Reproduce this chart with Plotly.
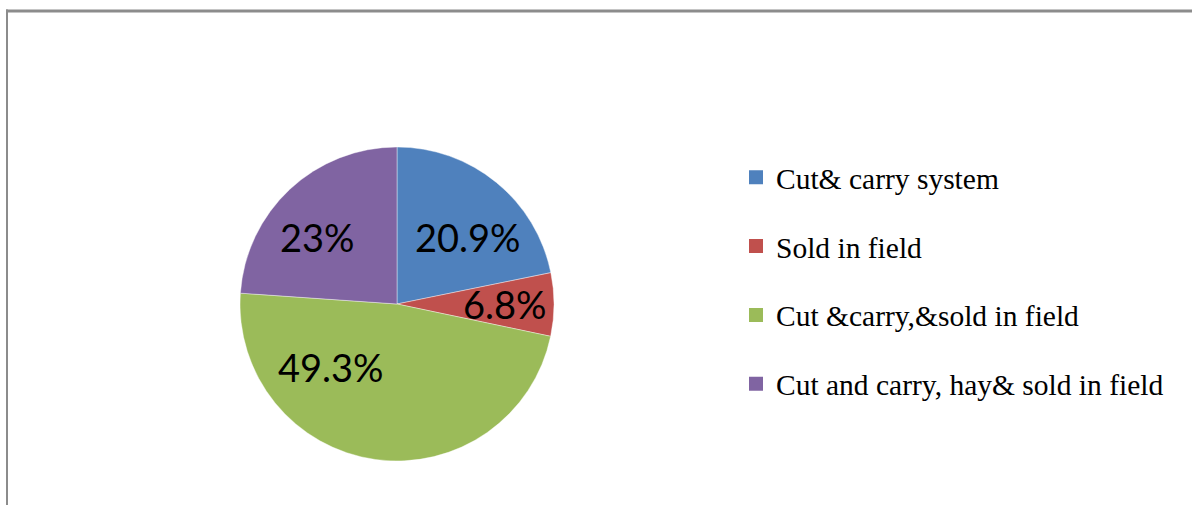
import plotly.graph_objects as go

categories = ["Cut& carry system", "Sold in field", "Cut &carry,&sold in field",
              "Cut and carry, hay& sold in field"]
# slice sizes as drawn in the picture (angles measured on the wedges)
values = [21.8, 6.5, 47.8, 23.9]
# percentages printed on the wedges
labels_text = ["20.9%", "6.8%", "49.3%", "23%"]
colors = ["#4F81BD", "#C0504D", "#9BBB59", "#8064A2"]

W, H = 1192, 505
cx, cy, r = 397, 304, 157

# label centres (pixels in the window), as placed by the original chart
label_pos = [(467.5, 237), (505, 304), (330.5, 366.5), (317.5, 237)]

fig = go.Figure()
fig.add_trace(go.Pie(
    labels=categories, values=values,
    textinfo="none",
    marker=dict(colors=colors, line=dict(width=0.8, color="rgba(255,255,255,0.5)")),
    sort=False, direction="clockwise", rotation=0,
    domain=dict(x=[(cx - r) / W, (cx + r) / W], y=[(H - cy - r) / H, (H - cy + r) / H]),
    showlegend=False, hoverinfo="label",
))

for i, (name, col) in enumerate(zip(categories, colors)):
    fig.add_trace(go.Scatter(
        x=[None], y=[None], mode="markers", name=name,
        marker=dict(symbol="square", size=14, color=col),
        legendgroup=f"g{i}", showlegend=True,
    ))

annotations = [
    dict(text=t, xref="paper", yref="paper", x=px / W, y=(H - py) / H,
         xanchor="center", yanchor="middle", showarrow=False,
         font=dict(family="Lato", size=38, color="black"))
    for t, (px, py) in zip(labels_text, label_pos)
]

fig.update_layout(
    width=W, height=H,
    margin=dict(l=0, r=0, t=0, b=0),
    paper_bgcolor="white", plot_bgcolor="white",
    xaxis=dict(visible=False), yaxis=dict(visible=False),
    annotations=annotations,
    legend=dict(
        x=736 / W, xanchor="left", y=(H - 151.5) / H, yanchor="top",
        font=dict(family="Liberation Serif", size=29.5, color="black"),
        tracegroupgap=27.5, itemsizing="trace", bgcolor="rgba(0,0,0,0)",
    ),
    shapes=[
        dict(type="line", xref="paper", yref="paper", x0=6 / W, x1=1.0,
             y0=(H - 11) / H, y1=(H - 11) / H, line=dict(color="#8c8c8c", width=3)),
        dict(type="line", xref="paper", yref="paper", x0=7 / W, x1=7 / W,
             y0=0, y1=(H - 9.5) / H, line=dict(color="#8c8c8c", width=2)),
    ],
)

fig.write_html("out.html", config={"displayModeBar": False},
               post_script="document.body.style.margin='0';")
